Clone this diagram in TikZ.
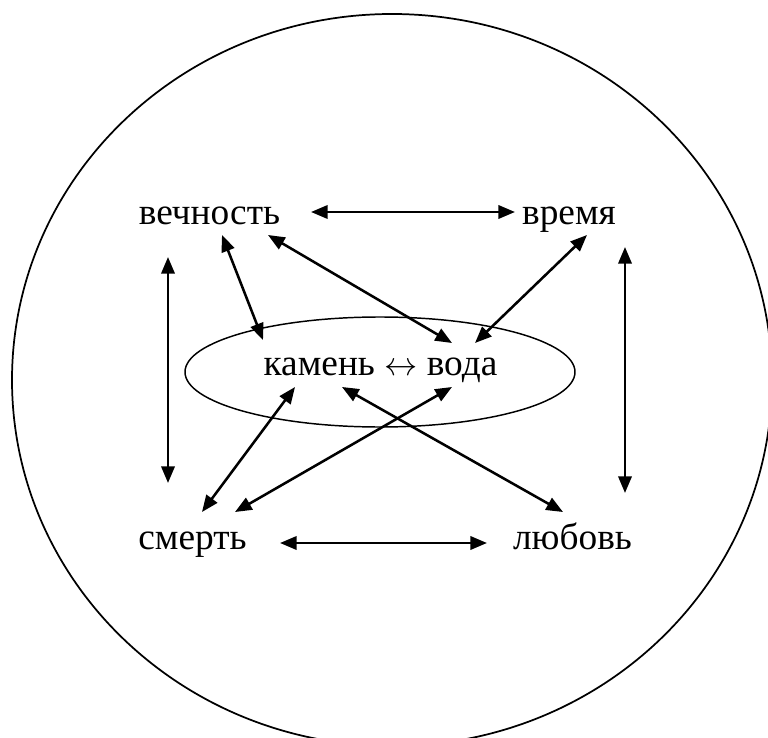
\documentclass[tikz,border=0pt]{standalone}
\usepackage{fontspec}
\setmainfont{Liberation Serif}
\usetikzlibrary{arrows.meta,shapes.geometric}
\tikzset{
  lbl/.style={anchor=base, inner sep=0pt, font=\fontsize{28}{32}\selectfont},
  link/.style={line width=1.9pt, {Triangle[length=12.5pt,width=10pt]}-{Triangle[length=12.5pt,width=10pt]}},
}
\begin{document}
\begin{tikzpicture}[x=0.75pt,y=-0.75pt]
\useasboundingbox (0,0) rectangle (768,738);
\begin{scope}
\clip (0,0) rectangle (768,738);
\draw[line width=1.3pt] (392,380) ellipse [x radius=380, y radius=366];
\end{scope}
\draw[line width=1.1pt] (380,372) ellipse [x radius=195, y radius=55];
\node[lbl] (vech) at (209.5,225) {вечность};
\node[lbl] (vrem) at (569,225) {время};
\node[lbl] (kv) at (380.5,375) {камень $\leftrightarrow$ вода};
\node[lbl] (smer) at (192.5,549) {смерть};
\node[lbl] (lyub) at (572.5,549) {любовь};
% endpoints
\coordinate (a1) at (311,212); \coordinate (a2) at (515,212);
\coordinate (b1) at (280,543); \coordinate (b2) at (487,543);
\coordinate (c1) at (168,257); \coordinate (c2) at (168,483);
\coordinate (d1) at (625,247); \coordinate (d2) at (625,493);
\coordinate (e1) at (222,235); \coordinate (e2) at (263,340);
\coordinate (f1) at (268,235); \coordinate (f2) at (452,343);
\coordinate (g1) at (587,235); \coordinate (g2) at (475,343);
\coordinate (h1) at (295,387); \coordinate (h2) at (202,512);
\coordinate (i1) at (452,387); \coordinate (i2) at (235,512);
\coordinate (j1) at (342,387); \coordinate (j2) at (563,512);
\draw[link] (a1) -- (a2);
\draw[link] (b1) -- (b2);
\draw[link] (c1) -- (c2);
\draw[link] (d1) -- (d2);
\draw[link] (e1) -- (e2);
\draw[link] (f1) -- (f2);
\draw[link] (g1) -- (g2);
\draw[link] (h1) -- (h2);
\draw[link] (i1) -- (i2);
\draw[link] (j1) -- (j2);
\end{tikzpicture}
\end{document}
